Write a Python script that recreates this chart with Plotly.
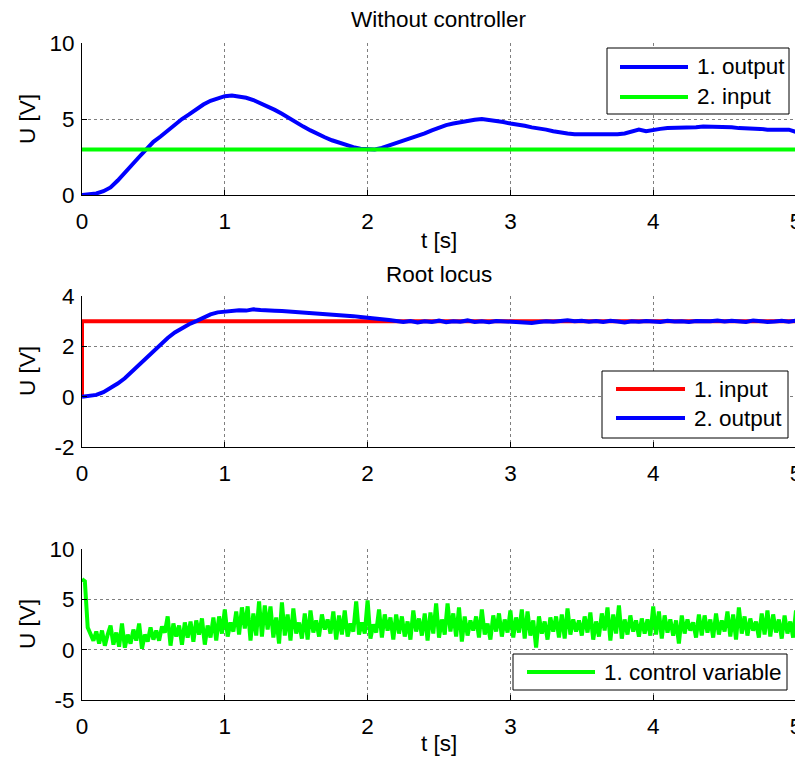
import numpy as np
import plotly.graph_objects as go

# ---------------- data ----------------
DT_SLOW = 0.05
out_no_ctrl = [0.0, 0.05, 0.1, 0.25, 0.5, 0.95, 1.5, 2.0, 2.5, 3.0,
               3.5, 3.85, 4.25, 4.65, 5.0, 5.3, 5.65, 5.95, 6.2, 6.35,
               6.5, 6.55, 6.5, 6.4, 6.25, 6.05, 5.85, 5.6, 5.35, 5.05,
               4.75, 4.5, 4.25, 4.0, 3.8, 3.6, 3.45, 3.25, 3.15, 3.05,
               3.0, 3.0, 3.1, 3.25, 3.4, 3.55, 3.75, 3.9, 4.05, 4.25,
               4.45, 4.6, 4.7, 4.8, 4.9, 4.95, 5.0, 4.95, 4.9, 4.8,
               4.7, 4.65, 4.55, 4.45, 4.4, 4.3, 4.2, 4.1, 4.05, 4.0,
               4.0, 3.95, 3.95, 3.95, 4.0, 4.0, 4.05, 4.15, 4.3, 4.2,
               4.3, 4.35, 4.4, 4.4, 4.45, 4.4, 4.45, 4.5, 4.5, 4.45,
               4.45, 4.45, 4.4, 4.4, 4.35, 4.35, 4.3, 4.3, 4.25, 4.3,
               4.15]
in_no_ctrl_t = [0, 5]
in_no_ctrl = [3, 3]

rl_input_t = [0, 0, 5]
rl_input = [0, 3, 3]
rl_output = [0.0, 0.02, 0.07, 0.18, 0.33, 0.52, 0.73, 1.0, 1.27, 1.55,
             1.8, 2.08, 2.33, 2.55, 2.73, 2.88, 3.0, 3.15, 3.27, 3.35,
             3.38, 3.4, 3.43, 3.42, 3.47, 3.44, 3.44, 3.41, 3.4, 3.38,
             3.36, 3.35, 3.33, 3.3, 3.31, 3.27, 3.24, 3.22, 3.2, 3.17,
             3.13, 3.1, 3.08, 3.05, 3.02, 2.97, 3.01, 2.95, 3.0, 2.97,
             3.02, 2.96, 3.0, 2.98, 3.03, 2.97, 3.0, 2.96, 3.01, 2.99,
             2.97, 2.99, 2.96, 2.93, 2.97, 3.0, 2.98, 3.02, 3.04, 3.0,
             3.02, 2.98, 3.01, 2.97, 3.02, 2.99, 2.95, 3.0, 2.98, 3.01,
             3.0, 2.97, 3.02, 2.99, 3.0, 2.97, 3.01, 2.99, 3.0, 3.03,
             2.99, 3.02, 3.0, 2.97, 3.03, 3.01, 2.97, 2.99, 3.02, 2.98,
             3.02]

DT_FAST = 0.02
control = [7.0, 6.8, 2.2, 1.6, 0.9, 1.8, 0.6, 1.9, 0.4, 1.5,
           2.4, 0.5, 1.7, 0.3, 2.6, 0.2, 1.5, 0.6, 2.0, 0.9,
           2.6, 0.1, 1.5, 0.8, 2.2, 1.0, 1.9, 0.9, 2.3, 1.7,
           3.3, 0.4, 2.6, 1.3, 2.4, 0.5, 2.7, 1.2, 2.8, 0.8,
           2.9, 1.5, 3.1, 0.5, 2.4, 1.2, 3.2, 0.9, 3.3, 1.6,
           4.0, 1.3, 2.7, 1.8, 3.8, 1.5, 4.2, 2.1, 4.3, 0.9,
           3.6, 1.4, 4.8, 1.3, 4.4, 2.0, 4.3, 1.2, 3.2, 0.6,
           4.7, 1.4, 3.5, 0.9, 4.1, 1.6, 2.7, 1.1, 3.6, 1.0,
           3.9, 1.7, 2.9, 1.3, 3.5, 2.0, 3.0, 1.6, 3.8, 1.0,
           3.4, 1.5, 3.9, 1.3, 2.6, 1.8, 4.8, 1.5, 2.7, 1.6,
           4.9, 1.1, 2.5, 1.7, 4.0, 1.2, 3.5, 1.9, 3.2, 1.0,
           3.5, 1.6, 3.3, 1.3, 2.8, 1.0, 3.9, 1.8, 3.1, 1.4,
           3.6, 0.9, 3.7, 1.6, 4.6, 1.2, 3.0, 1.5, 4.6, 1.8,
           3.6, 1.3, 4.2, 0.8, 3.3, 1.4, 2.9, 1.9, 3.3, 1.2,
           4.0, 1.5, 2.6, 1.0, 3.4, 1.8, 3.6, 1.3, 3.0, 1.7,
           3.9, 1.2, 3.2, 1.7, 4.0, 1.1, 3.8, 1.4, 2.9, 0.2,
           3.3, 1.6, 2.8, 1.0, 3.2, 1.8, 3.3, 1.2, 3.5, 1.1,
           4.1, 1.5, 3.0, 1.8, 2.9, 1.4, 3.3, 1.7, 3.7, 1.0,
           2.8, 1.3, 3.6, 1.9, 4.2, 0.9, 3.5, 1.6, 4.4, 1.1,
           3.0, 1.5, 3.4, 1.8, 2.9, 1.3, 3.1, 1.6, 3.0, 1.4,
           4.3, 1.5, 3.8, 1.1, 3.4, 1.7, 3.0, 1.4, 2.9, 0.6,
           3.4, 1.6, 3.0, 1.9, 2.7, 1.2, 3.5, 1.4, 3.4, 1.7,
           3.0, 1.2, 3.6, 1.5, 2.9, 1.8, 3.8, 1.3, 3.5, 1.0,
           4.2, 1.6, 3.3, 1.4, 3.1, 1.9, 2.8, 1.2, 3.6, 1.5,
           3.9, 1.3, 3.5, 1.7, 3.0, 1.1, 3.4, 1.6, 2.8, 1.2,
           3.9]

x_ticks = [0, 1, 2, 3, 4, 5]
y1_ticks = [0, 5, 10]
y2_ticks = [-2, 0, 2, 4]
y3_ticks = [-5, 0, 5, 10]

t_slow = np.round(np.arange(len(out_no_ctrl)) * DT_SLOW, 3)
t_slow2 = np.round(np.arange(len(rl_output)) * DT_SLOW, 3)
t_fast = np.round(np.arange(len(control)) * DT_FAST, 3)

# ---------------- figure ----------------
# page body has an 8px margin; the figure is sized to fill the rest of the window
OFF = 8
W, H = 803 - OFF, 764 - OFF
FONT = "Liberation Sans, Arial, sans-serif"
FS = 22.5
BLUE, GREEN, RED = "#0000ff", "#00ff00", "#ff0000"
LW = 4


def px(x):
    return (x - OFF) / W


def py(y):
    return 1 - (y - OFF) / H


fig = go.Figure()
fig.add_trace(go.Scatter(x=t_slow, y=out_no_ctrl, mode="lines",
                         line=dict(color=BLUE, width=LW), xaxis="x", yaxis="y"))
fig.add_trace(go.Scatter(x=in_no_ctrl_t, y=in_no_ctrl, mode="lines",
                         line=dict(color=GREEN, width=LW), xaxis="x", yaxis="y"))
fig.add_trace(go.Scatter(x=rl_input_t, y=rl_input, mode="lines",
                         line=dict(color=RED, width=LW), xaxis="x2", yaxis="y2"))
fig.add_trace(go.Scatter(x=t_slow2, y=rl_output, mode="lines",
                         line=dict(color=BLUE, width=LW), xaxis="x2", yaxis="y2"))
fig.add_trace(go.Scatter(x=t_fast, y=control, mode="lines",
                         line=dict(color=GREEN, width=LW), xaxis="x3", yaxis="y3"))

xdom = [px(82), px(796)]
doms = [[py(195), py(43)], [py(447), py(296)], [py(700), py(549)]]
yt = [y1_ticks, y2_ticks, y3_ticks]


def ax_common():
    return dict(showline=True, linecolor="black", linewidth=1,
                ticks="inside", ticklen=5, tickcolor="black", automargin=False,
                showgrid=True, gridcolor="#7f7f7f", griddash="dot", gridwidth=1,
                zeroline=False, tickfont=dict(family=FONT, size=FS, color="black"))


lay = dict(width=W, height=H, margin=dict(l=0, r=0, t=0, b=0, autoexpand=False),
           plot_bgcolor="white", paper_bgcolor="white", showlegend=False,
           font=dict(family=FONT, size=FS, color="black"))
for i in range(3):
    sx = "" if i == 0 else str(i + 1)
    xa = ax_common()
    xa.update(domain=xdom, range=[0, 5], tickvals=x_ticks,
              ticktext=[str(v) for v in x_ticks],
              anchor="y" + sx, ticklabelstandoff=6)
    ya = ax_common()
    ya.update(domain=doms[i], range=[min(yt[i]), max(yt[i])], tickvals=yt[i],
              ticktext=[str(v) for v in yt[i]], anchor="x" + sx,
              ticklabelstandoff=2)
    lay["xaxis" + sx] = xa
    lay["yaxis" + sx] = ya

annotations = []


def text(s, x, y, xanchor="center", angle=0):
    annotations.append(dict(text=s, x=px(x), y=py(y), xref="paper", yref="paper",
                            xanchor=xanchor, yanchor="middle", showarrow=False,
                            textangle=angle,
                            font=dict(family=FONT, size=FS, color="black")))


text("Without controller", 439, 20)
text("Root locus", 439, 274)
text("t [s]", 439, 240)
text("t [s]", 439, 743)
for yc in [119, 371, 624]:
    text("U [V]", 27, yc, angle=-90)

shapes = []


def legend_box(x0, y0, x1, y1, items):
    shapes.append(dict(type="rect", xref="paper", yref="paper",
                       x0=px(x0), x1=px(x1), y0=py(y1), y1=py(y0),
                       line=dict(color="black", width=1), fillcolor="white"))
    for (lx0, lx1, ly, col, label) in items:
        shapes.append(dict(type="line", xref="paper", yref="paper",
                           x0=px(lx0), x1=px(lx1), y0=py(ly), y1=py(ly),
                           line=dict(color=col, width=LW)))
        text(label, lx1 + 7, ly, xanchor="left")


legend_box(607, 48, 789, 114, [(620, 688, 67, BLUE, "1. output"),
                               (620, 688, 97, GREEN, "2. input")])
legend_box(602, 371, 788, 438, [(616, 685, 389, RED, "1. input"),
                                (616, 685, 418, BLUE, "2. output")])
legend_box(513, 654, 787, 690, [(527, 595, 672, GREEN, "1. control variable")])

lay["annotations"] = annotations
lay["shapes"] = shapes
fig.update_layout(**lay)
fig.write_html("out.html")
